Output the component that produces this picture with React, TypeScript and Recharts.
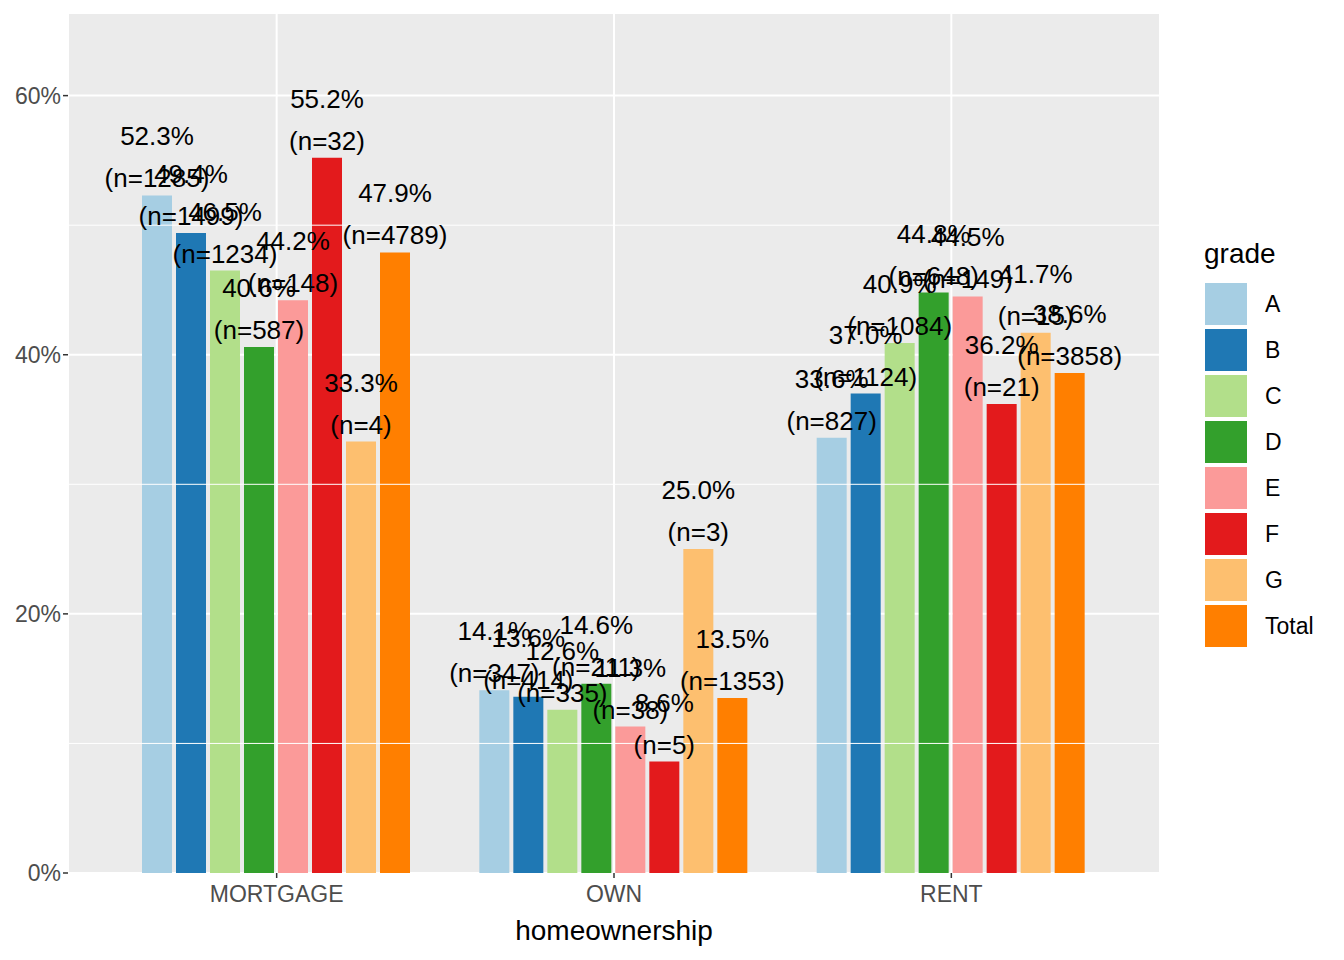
import React from "react";
import { BarChart, Bar, XAxis, YAxis, CartesianGrid, ReferenceLine, LabelList } from "recharts";

const categories = ["MORTGAGE", "OWN", "RENT"];
const grades = ["A", "B", "C", "D", "E", "F", "G", "Total"];
const colors = ["#a6cee3", "#1f78b4", "#b2df8a", "#33a02c", "#fb9a99", "#e31a1c", "#fdbf6f", "#ff7f00"];
const pct: number[][] = [
  [52.3, 14.1, 33.6],
  [49.4, 13.6, 37.0],
  [46.5, 12.6, 40.9],
  [40.6, 14.6, 44.8],
  [44.2, 11.3, 44.5],
  [55.2, 8.6, 36.2],
  [33.3, 25.0, 41.7],
  [47.9, 13.5, 38.6],
];
const counts: number[][] = [
  [1285, 347, 827],
  [1499, 414, 1124],
  [1234, 335, 1084],
  [587, 211, 648],
  [148, 38, 149],
  [32, 5, 21],
  [4, 3, 15],
  [4789, 1353, 3858],
];
const yTicks = [0, 20, 40, 60];
const minorTicks = [10, 30, 50];

const data = categories.map((c, ci) => {
  const row: Record<string, any> = { cat: c };
  grades.forEach((g, gi) => {
    row[g] = pct[gi][ci];
    row["n" + g] = counts[gi][ci];
  });
  return row;
});

const font = "'Liberation Sans', Arial, sans-serif";

const makeLabel = (g: string) => (props: any) => {
  const { x, y, width, index } = props;
  const row = data[index];
  const cx = x + width / 2;
  return (
    <g>
      <text x={cx} y={y - 59} textAnchor="middle" dominantBaseline="central" fontSize={26} fill="#000" fontFamily={font}>
        {row[g].toFixed(1) + "%"}
      </text>
      <text x={cx} y={y - 17} textAnchor="middle" dominantBaseline="central" fontSize={26} fill="#000" fontFamily={font}>
        {"(n=" + row["n" + g] + ")"}
      </text>
    </g>
  );
};

export default function App() {
  return (
    <div style={{ position: "absolute", left: 0, top: 0, width: 1344, height: 960, background: "#fff", fontFamily: font }}>
      <BarChart width={1344} height={960} data={data} margin={{ top: 14, right: 184, left: 0, bottom: 0 }} barCategoryGap={34} barGap={4}>
        <CartesianGrid fill="#ebebeb" stroke="#fff" strokeWidth={2} horizontalValues={yTicks} />
        {minorTicks.map((t) => (
          <ReferenceLine key={t} y={t} stroke="#fff" strokeWidth={1} />
        ))}
        <XAxis
          dataKey="cat"
          height={87}
          padding={{ left: 40, right: 40 }}
          axisLine={false}
          tickLine={{ stroke: "#333", strokeWidth: 1.5 }}
          tickSize={5}
          tickMargin={8}
          tick={{ fill: "#4d4d4d", fontSize: 23, fontFamily: font }}
          label={{ value: "homeownership", position: "insideBottom", offset: 20, fill: "#000", fontSize: 28, fontFamily: font }}
        />
        <YAxis
          width={68}
          domain={[0, 66.3]}
          ticks={yTicks}
          axisLine={false}
          tickLine={{ stroke: "#333", strokeWidth: 1.5 }}
          tickSize={5}
          tickFormatter={(v) => v + "%"}
          tick={{ fill: "#4d4d4d", fontSize: 23, fontFamily: font }}
          allowDataOverflow
        />
        {grades.map((g, gi) => (
          <Bar key={g} dataKey={g} fill={colors[gi]} isAnimationActive={false}>
            <LabelList dataKey={g} content={makeLabel(g)} />
          </Bar>
        ))}
      </BarChart>
      <div style={{ position: "absolute", left: 1204, top: 238, fontSize: 28, color: "#000" }}>grade</div>
      {grades.map((g, gi) => (
        <div key={g} style={{ position: "absolute", left: 1204, top: 282 + gi * 46, display: "flex", alignItems: "center" }}>
          <div style={{ width: 44, height: 44, background: colors[gi], boxSizing: "border-box", border: "1px solid #fff" }} />
          <span style={{ marginLeft: 17, fontSize: 23 }}>{g}</span>
        </div>
      ))}
    </div>
  );
}
